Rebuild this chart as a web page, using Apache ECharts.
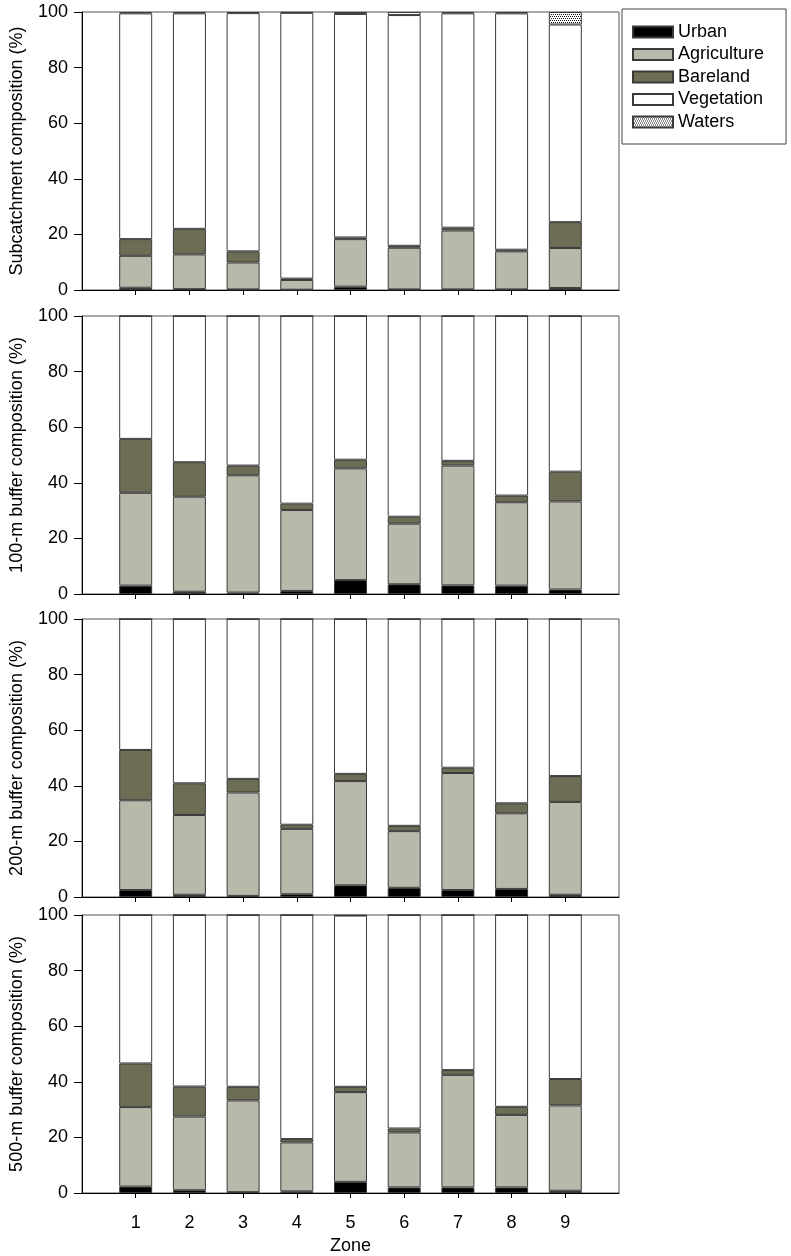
<!DOCTYPE html>
<html>
<head>
<meta charset="utf-8">
<script src="https://cdn.jsdelivr.net/npm/echarts@6/dist/echarts.min.js"></script>
<style>
  html, body { margin: 0; padding: 0; background: #fff; }
  #chart { width: 791px; height: 1256px; }
</style>
</head>
<body>
<div id="chart"></div>
<script>
// zones on the x axis
const zones = ['1', '2', '3', '4', '5', '6', '7', '8', '9']
const yTicks = [0, 20, 40, 60, 80, 100]
const landUse = ['Urban', 'Agriculture', 'Bareland', 'Vegetation', 'Waters']

// subcatchment composition (%)
const subUrban = [0.8, 0.3, 0.2, 0.1, 1.2, 0.2, 0.2, 0.2, 0.7]
const subAgri = [11.5, 12.5, 9.7, 3.5, 17.1, 15.0, 21.2, 13.7, 14.4]
const subBare = [6.0, 9.2, 4.0, 0.5, 0.6, 0.7, 1.0, 0.6, 9.3]
const subVeg = [81.2, 77.5, 85.7, 95.6, 80.4, 83.0, 77.1, 85.0, 71.1]
const subWater = [0.5, 0.5, 0.4, 0.3, 0.7, 1.1, 0.5, 0.5, 4.5]

// 100-m buffer composition (%)
const b100Urban = [3.0, 0.8, 0.5, 1.1, 5.0, 3.5, 3.1, 3.0, 1.6]
const b100Agri = [33.4, 34.2, 42.2, 29.1, 40.2, 21.8, 43.1, 30.0, 31.7]
const b100Bare = [19.4, 12.4, 3.5, 2.3, 3.1, 2.5, 1.7, 2.4, 10.7]
const b100Veg = [44.2, 52.6, 53.8, 67.5, 51.7, 72.2, 52.1, 64.6, 56.0]
const b100Water = [0, 0, 0, 0, 0, 0, 0, 0, 0]

// 200-m buffer composition (%)
const b200Urban = [2.5, 0.8, 0.4, 1.0, 4.2, 3.3, 2.5, 2.9, 0.8]
const b200Agri = [32.3, 28.7, 37.2, 23.5, 37.5, 20.4, 42.1, 27.2, 33.4]
const b200Bare = [18.1, 11.4, 4.9, 1.5, 2.6, 1.9, 1.9, 3.6, 9.3]
const b200Veg = [47.1, 59.1, 57.5, 74.0, 55.7, 74.4, 53.5, 66.3, 56.5]
const b200Water = [0, 0, 0, 0, 0, 0, 0, 0, 0]

// 500-m buffer composition (%)
const b500Urban = [2.3, 1.0, 0.3, 0.6, 4.0, 2.0, 2.0, 2.0, 0.8]
const b500Agri = [28.6, 26.5, 33.0, 17.6, 32.3, 19.8, 40.5, 26.1, 30.7]
const b500Bare = [15.7, 10.8, 4.9, 1.2, 1.9, 1.4, 1.7, 2.9, 9.5]
const b500Veg = [53.4, 61.7, 61.8, 80.6, 61.6, 76.8, 55.8, 69.0, 59.0]
const b500Water = [0, 0, 0, 0, 0.2, 0, 0, 0, 0]

const panels = [
  { name: 'Subcatchment composition (%)', data: [subUrban, subAgri, subBare, subVeg, subWater], top: 12, height: 278 },
  { name: '100-m buffer composition (%)', data: [b100Urban, b100Agri, b100Bare, b100Veg, b100Water], top: 316, height: 278 },
  { name: '200-m buffer composition (%)', data: [b200Urban, b200Agri, b200Bare, b200Veg, b200Water], top: 619, height: 278 },
  { name: '500-m buffer composition (%)', data: [b500Urban, b500Agri, b500Bare, b500Veg, b500Water], top: 915, height: 280 }
]

// stipple for waters
const dots = document.createElement('canvas')
dots.width = 4
dots.height = 4
const dctx = dots.getContext('2d')
dctx.fillStyle = '#fff'
dctx.fillRect(0, 0, 4, 4)
dctx.fillStyle = '#111'
dctx.fillRect(0, 0, 1, 1)
dctx.fillRect(2, 0, 1, 1)
dctx.fillRect(1, 2, 1, 1)
dctx.fillRect(3, 2, 1, 1)

const fills = ['#000000', '#b8b8ab', '#6d6d55', '#ffffff', { image: dots, repeat: 'repeat' }]
const font = 'Liberation Sans, Arial, sans-serif'
const xCats = [''].concat(zones, [''])

const grid = []
const xAxis = []
const yAxis = []
const series = []

panels.forEach((p, i) => {
  const last = i === panels.length - 1
  grid.push({
    left: 80, width: 539, top: p.top, height: p.height,
    show: true, borderColor: '#555', borderWidth: 1, backgroundColor: 'transparent'
  })
  xAxis.push({
    type: 'category', gridIndex: i, data: xCats, boundaryGap: false,
    name: last ? 'Zone' : '', nameLocation: 'middle', nameGap: 44,
    nameTextStyle: { fontFamily: font, fontSize: 18, color: '#000' },
    axisLine: { lineStyle: { color: '#000', width: 1 } },
    axisTick: {
      show: true, length: 5, inside: false, alignWithLabel: true,
      interval: idx => idx > 0 && idx < xCats.length - 1,
      lineStyle: { color: '#000' }
    },
    axisLabel: {
      show: last, interval: 0, margin: 21,
      fontFamily: font, fontSize: 18, color: '#000'
    },
    splitLine: { show: false }
  })
  yAxis.push({
    type: 'value', gridIndex: i, min: yTicks[0], max: yTicks[yTicks.length - 1], interval: 20,
    name: p.name, nameLocation: 'middle', nameGap: 56, nameRotate: 90,
    nameTextStyle: { fontFamily: font, fontSize: 18, color: '#000' },
    axisLine: { show: true, lineStyle: { color: '#000', width: 1 } },
    axisTick: { show: true, length: 8, inside: false, lineStyle: { color: '#000' } },
    axisLabel: { margin: 14, fontFamily: font, fontSize: 18, color: '#000' },
    splitLine: { show: false }
  })
  p.data.forEach((vals, k) => {
    series.push({
      name: landUse[k], type: 'bar', stack: 'panel' + i,
      xAxisIndex: i, yAxisIndex: i, barWidth: 33,
      data: [null].concat(vals, [null]),
      itemStyle: { color: fills[k], borderColor: '#3a3a3a', borderWidth: 1 },
      emphasis: { disabled: true },
      animation: false
    })
  })
})

const chart = echarts.init(document.getElementById('chart'), null, { renderer: 'canvas' })
chart.setOption({
  backgroundColor: '#fff',
  animation: false,
  legend: {
    data: landUse, orient: 'vertical', left: 622, top: 9,
    icon: 'rect', itemWidth: 40, itemHeight: 11, itemGap: 4.5,
    padding: [14, 22, 13, 10],
    borderColor: '#444', borderWidth: 1, backgroundColor: '#fff',
    textStyle: { fontFamily: font, fontSize: 18, color: '#000' },
    selectedMode: false
  },
  grid: grid,
  xAxis: xAxis,
  yAxis: yAxis,
  series: series
})
</script>
</body>
</html>
